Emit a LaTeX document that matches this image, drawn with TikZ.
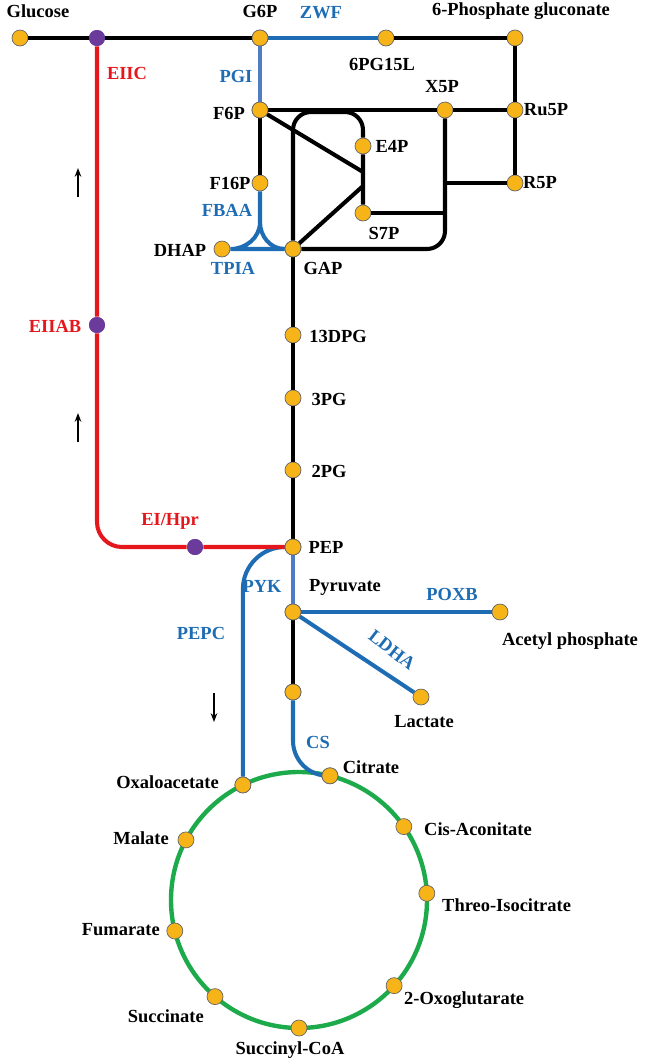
\documentclass[tikz,border=0pt]{standalone}
\usepackage{fontspec}
\setmainfont{Liberation Serif}
\usetikzlibrary{arrows.meta,calc}
\definecolor{dotfill}{HTML}{F7B418}
\definecolor{enzblue}{HTML}{1E6DB4}
\definecolor{pgiblue}{HTML}{4F7CC4}
\definecolor{ptsred}{HTML}{E5161C}
\definecolor{tcagreen}{HTML}{1DAA4A}
\definecolor{ptspurple}{HTML}{6B3B9C}
\tikzset{
  met/.style={circle,fill=dotfill,draw=black!60,line width=0.4pt,inner sep=0pt,minimum size=0.32cm},
  pts/.style={circle,fill=ptspurple,inner sep=0pt,minimum size=0.32cm},
  lbl/.style={font=\fontsize{10.5}{12}\selectfont\bfseries},
  enz/.style={lbl,text=enzblue},
  ptsl/.style={lbl,text=ptsred},
  path/.style={line width=2.3pt},
}
\begin{document}
\begin{tikzpicture}[x=0.02cm,y=-0.02cm]
    \useasboundingbox (0,0) rectangle (650,1062);

    % metabolites
    \node[met] (glc) at (20,38) {};
    \node[met] (g6p) at (260,38) {};
    \node[met] (pgl) at (386,38) {};
    \node[met] (pgc) at (515,38) {};
    \node[met] (f6p) at (260,110) {};
    \node[met] (x5p) at (445,110) {};
    \node[met] (ru5p) at (515,110) {};
    \node[met] (e4p) at (363,146) {};
    \node[met] (f16p) at (260,183) {};
    \node[met] (r5p) at (515,183) {};
    \node[met] (s7p) at (363,213) {};
    \node[met] (dhap) at (222,249) {};
    \node[met] (gap) at (293,249) {};
    \node[met] (dpg) at (293,335) {};
    \node[met] (pg3) at (293,398) {};
    \node[met] (pg2) at (293,470) {};
    \node[met] (pep) at (293,547) {};
    \node[met] (pyr) at (293,612) {};
    \node[met] (acp) at (500,612) {};
    \node[met] (lac) at (421,697) {};
    \node[met] (acoa) at (293,692) {};

    % glycolysis and pentose phosphate
    \draw[path] (glc) -- (g6p);
    \draw[path,enzblue] (g6p) -- (pgl);
    \draw[path] (pgl) -- (pgc) -- (ru5p) -- (r5p);
    \draw[path,pgiblue] (g6p) -- (f6p);
    \draw[path] (f6p) -- (x5p) -- (ru5p);
    \draw[path] (f6p) -- (f16p);
    \draw[path] (f6p) -- (363,172);
    \draw[path] (gap) -- (363,186);
    \draw[path] (gap) -- (293,130) arc (180:270:18) -- (345,112) arc (270:360:18) -- (e4p) -- (s7p);
    \draw[path] (s7p) -- (445,213);
    \draw[path] (r5p) -- (445,183);
    \draw[path] (x5p) -- (445,231) arc (0:90:18) -- (gap);
    \draw[path,enzblue] (f16p) -- (260,222) to[out=-90,in=0] (dhap) -- (gap);
    \draw[path,enzblue] (260,222) to[out=-90,in=180] (gap);
    \draw[path] (gap) -- (dpg) -- (pg3) -- (pg2) -- (pep);
    \draw[path,pgiblue] (pep) -- (pyr);
    \draw[path] (pyr) -- (acoa);
    \draw[path,enzblue] (pyr) -- (acp);
    \draw[path,enzblue] (pyr) -- (lac);

    % TCA cycle
    \draw[tcagreen,line width=2.5pt] (299,900) circle[radius=128];
    \foreach \ang/\nm in {116/oaa,76/cit,35/cis,3/ici,-42/okg,-90/sca,-131/suc,-166/fum,152/mal}
      \node[met] (\nm) at ($(299,900)+(-\ang:128)$) {};
    \draw[path,enzblue,rounded corners=20] (acoa) -- (acoa|-cit) -- (cit);
    \draw[path,enzblue,rounded corners=24] (pep) -- (oaa|-pep) -- (oaa);

    % PTS
    \node[pts] (eiic) at (97,38) {};
    \node[pts] (eiiab) at (97,325) {};
    \node[pts] (eihpr) at (195,547) {};
    \draw[path,ptsred] (eiic) -- (eiiab) -- (97,522) arc (180:90:25) -- (eihpr) -- (pep);
    \node[pts] at (97,38) {};
    \node[pts] at (97,325) {};
    \node[pts] at (195,547) {};
    \foreach \n in {g6p,f6p,gap,pep,pyr,oaa,cit,acoa} \node[met] at (\n) {};

    % arrows
    \draw[-{Stealth[length=5pt]},line width=1.3pt] (78,197) -- (78,168);
    \draw[-{Stealth[length=5pt]},line width=1.3pt] (78,442) -- (78,413);
    \draw[-{Stealth[length=5pt]},line width=1.3pt] (214,693) -- (214,722);

    % labels
    \node[lbl] at (38,11) {Glucose};
    \node[lbl] at (260,11) {G6P};
    \node[enz] at (321,13) {ZWF};
    \node[lbl] at (521,11) {6-Phosphate gluconate};
    \node[lbl] at (382,64) {6PG15L};
    \node[enz] at (236,76) {PGI};
    \node[ptsl] at (127,73) {EIIC};
    \node[lbl] at (229,113) {F6P};
    \node[lbl] at (442,87) {X5P};
    \node[lbl] at (546,110) {Ru5P};
    \node[lbl] at (392,146) {E4P};
    \node[lbl] at (230,183) {F16P};
    \node[lbl] at (540,183) {R5P};
    \node[enz] at (227,210) {FBAA};
    \node[lbl] at (384,233) {S7P};
    \node[lbl] at (180,250) {DHAP};
    \node[enz] at (233,268) {TPIA};
    \node[lbl] at (323,268) {GAP};
    \node[ptsl] at (55,326) {EIIAB};
    \node[lbl] at (338,336) {13DPG};
    \node[lbl] at (329,399) {3PG};
    \node[lbl] at (329,471) {2PG};
    \node[ptsl] at (170,521) {EI/Hpr};
    \node[lbl] at (326,547) {PEP};
    \node[enz] at (262,586) {PYK};
    \node[lbl] at (345,587) {Pyruvate};
    \node[enz] at (452,594) {POXB};
    \node[lbl] at (570,641) {Acetyl phosphate};
    \node[enz,rotate=-38] at (392,650) {LDHA};
    \node[enz] at (201,633) {PEPC};
    \node[lbl] at (424,722) {Lactate};
    \node[enz] at (318,742) {CS};
    \node[lbl] at (371,767) {Citrate};
    \node[lbl,anchor=east] at (225,782) {Oxaloacetate};
    \node[lbl,anchor=east] at (175,838) {Malate};
    \node[lbl,anchor=west] at (418,829) {Cis-Aconitate};
    \node[lbl,anchor=west] at (436,905) {Threo-Isocitrate};
    \node[lbl,anchor=east] at (166,930) {Fumarate};
    \node[lbl,anchor=west] at (398,1000) {2-Oxoglutarate};
    \node[lbl,anchor=east] at (210,1016) {Succinate};
    \node[lbl] at (290,1050) {Succinyl-CoA};
\end{tikzpicture}
\end{document}
